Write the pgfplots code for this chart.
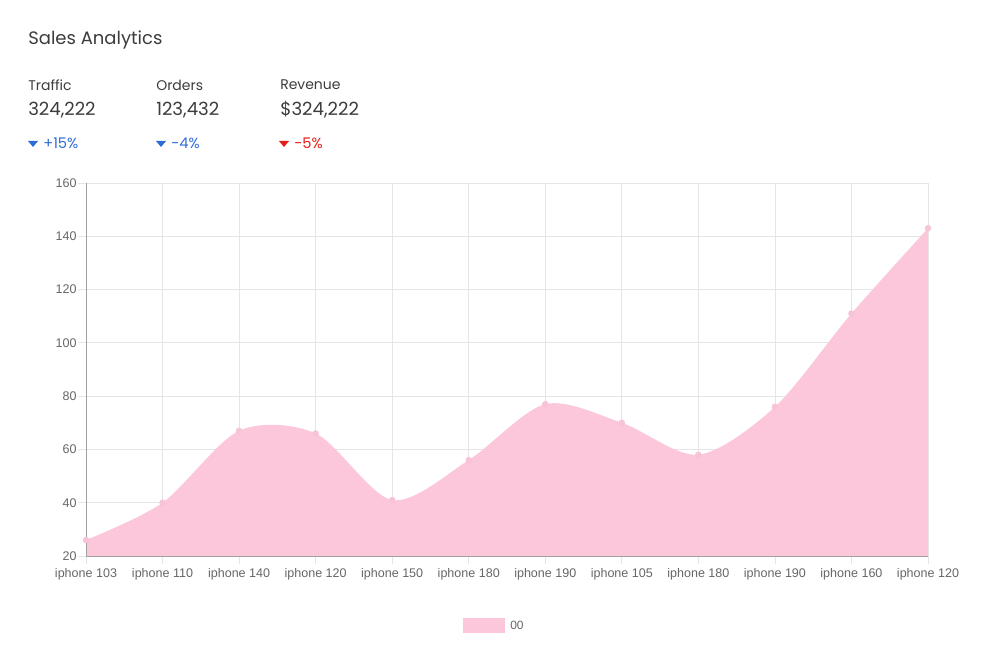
\documentclass[border=0pt]{standalone}
\usepackage{pgfplots}
\pgfplotsset{compat=1.18}
\usepackage{fontspec}
\setmainfont{Liberation Sans}
\newfontfamily\pop{Poppins}
\definecolor{pinkfill}{RGB}{252,198,219}
\definecolor{gridc}{RGB}{229,229,229}
\definecolor{axc}{RGB}{160,160,160}
\definecolor{tickc}{RGB}{102,102,102}
\definecolor{hdr}{RGB}{60,60,60}
\definecolor{blu}{RGB}{45,108,214}
\definecolor{rd}{RGB}{230,30,25}
\begin{document}
\begin{tikzpicture}
\begin{scope}[x=0.75pt,y=-0.75pt,yshift=501.75pt]
\path[use as bounding box] (0,0) rectangle (988,669);
% header
\node[anchor=west,inner sep=0,text=hdr] at (28,40) {\pop\fontsize{13.5pt}{15pt}\selectfont Sales Analytics};
\foreach \xx/\lab/\val in {28/Traffic/{324,222},156/Orders/{123,432},280/Revenue/{\$324,222}}{
  \node[anchor=west,inner sep=0,text=hdr] at (\xx,85) {\pop\fontsize{10.5pt}{12pt}\selectfont \lab};
  \node[anchor=west,inner sep=0,text=hdr] at (\xx,110) {\pop\fontsize{13.6pt}{15pt}\selectfont \val};
}
\fill[blu] (28,141) -- (38,141) -- (33,147) -- cycle;
\node[anchor=west,inner sep=0,text=blu] at (43,143) {\pop\fontsize{11pt}{12pt}\selectfont +15\%};
\fill[blu] (156,141) -- (166,141) -- (161,147) -- cycle;
\node[anchor=west,inner sep=0,text=blu] at (171,143) {\pop\fontsize{11pt}{12pt}\selectfont -4\%};
\fill[rd] (279,141) -- (289,141) -- (284,147) -- cycle;
\node[anchor=west,inner sep=0,text=rd] at (294,143) {\pop\fontsize{11pt}{12pt}\selectfont -5\%};
% legend
\fill[pinkfill] (463,618) rectangle (505,633);
\node[anchor=west,inner sep=0,text=tickc] at (510,625) {\fontsize{9pt}{10pt}\selectfont 00};
\end{scope}
\begin{axis}[
  at={(64.5pt,84.75pt)}, anchor=south west,
  width=631.5pt, height=279.75pt, scale only axis,
  xmin=0, xmax=11, ymin=20, ymax=160,
  xtick={0,...,11},
  xticklabels={iphone 103,iphone 110,iphone 140,iphone 120,iphone 150,iphone 180,iphone 190,iphone 105,iphone 180,iphone 190,iphone 160,iphone 120},
  ytick={20,40,...,160},
  grid=major,
  major grid style={gridc, line width=0.6pt},
  axis line style={draw=none},
  axis x line*=bottom, axis y line*=left,
  tick align=outside,
  major tick length=6pt,
  tick style={gridc, line width=0.6pt},
  ticklabel style={font=\fontsize{9.4pt}{11pt}\selectfont, text=tickc},
  yticklabel style={xshift=2.5pt},
  /pgf/number format/assume math mode=true,
  clip=false,
]
\addplot[draw=none, fill=pinkfill, smooth, tension=0.5] coordinates {
(0,26) (1,40) (2,67) (3,66) (4,41) (5,56) (6,77) (7,70) (8,58) (9,76) (10,111) (11,143)
} \closedcycle;
\addplot[only marks, mark=*, mark size=2.2pt, color=pinkfill!96!gray, mark options={fill=pinkfill!96!gray}] coordinates {
(0,26) (1,40) (2,67) (3,66) (4,41) (5,56) (6,77) (7,70) (8,58) (9,76) (10,111) (11,143)
};
\draw[axc, line width=0.7pt] (axis cs:0,20) -- (axis cs:0,160);
\draw[axc, line width=0.7pt] (axis cs:0,20) -- (axis cs:11,20);
\end{axis}
\end{tikzpicture}
\end{document}
